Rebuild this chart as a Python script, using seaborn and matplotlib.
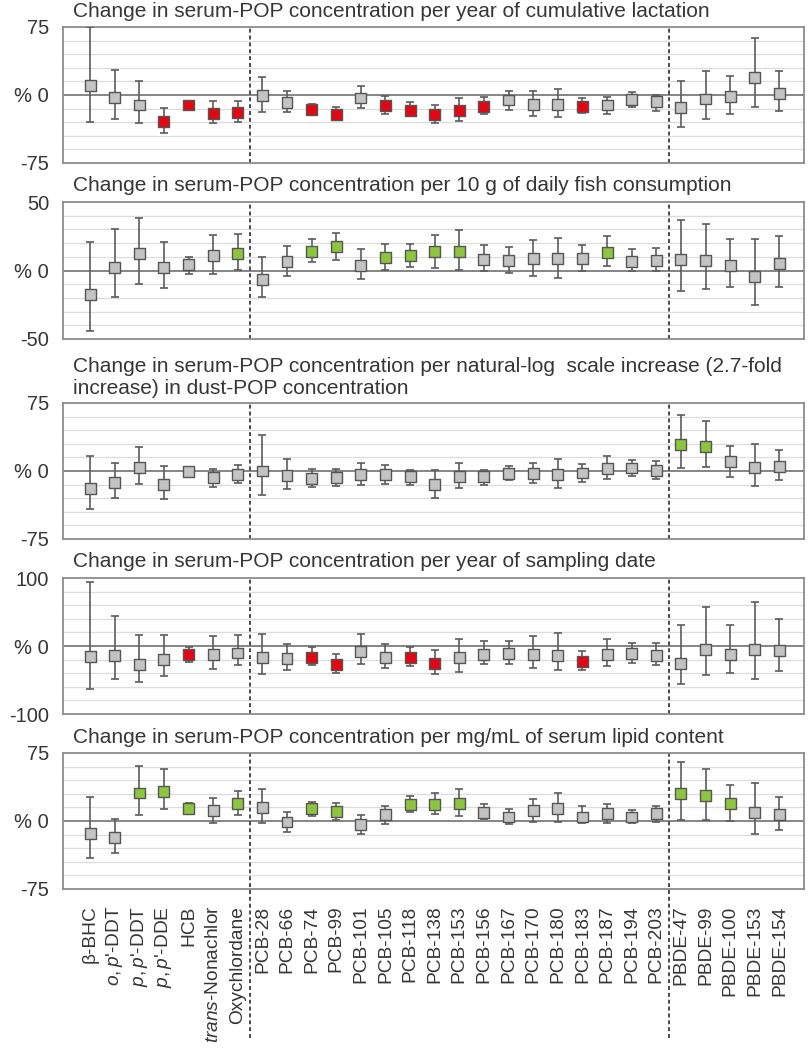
import numpy as np
import pandas as pd
import matplotlib
matplotlib.use("Agg")
import matplotlib.pyplot as plt
import seaborn as sns

# -----------------------------
# Data
# -----------------------------
compounds = [
    "β-BHC", r"$\mathit{o,p}$'-DDT", r"$\mathit{p,p}$'-DDT", r"$\mathit{p,p}$'-DDE", "HCB",
    r"$\mathit{trans}$-Nonachlor", "Oxychlordane",
    "PCB-28", "PCB-66", "PCB-74", "PCB-99", "PCB-101", "PCB-105", "PCB-118", "PCB-138",
    "PCB-153", "PCB-156", "PCB-167", "PCB-170", "PCB-180", "PCB-183", "PCB-187", "PCB-194",
    "PCB-203",
    "PBDE-47", "PBDE-99", "PBDE-100", "PBDE-153", "PBDE-154",
]

# 1. cumulative lactation
lact_est = [10.3, -2.6, -11, -29.6, -11, -20, -19.6, -0.7, -7.8, -16, -21, -3.3, -11.8, -17.4,
            -21, -17.4, -13, -5.5, -10, -10.7, -12.6, -11, -5.2, -7.4, -13.7, -4.4, -1.5, 19.6, 1.8]
lact_lo = [-29.6, -26.6, -31, -42, -15.5, -31, -30, -19, -19, -21, -26.6, -14.8, -21, -23,
           -31, -29, -21, -16.6, -23, -24, -20.3, -21, -13, -17.4, -35.8, -27, -21, -13, -18]
lact_hi = [75, 28, 15.5, -14, -8, -7, -7, 20, 4, -10, -13, 9.6, -1, -8, -10.7, -3.7, -2.6,
           4, 4, 6.7, -3.3, -1.8, 3.7, 0.4, 15.9, 26, 20.7, 62.8, 27]
lact_sig = ["n", "n", "n", "r", "r", "r", "r", "n", "n", "r", "r", "n", "r", "r", "r", "r",
            "r", "n", "n", "n", "r", "n", "n", "n", "n", "n", "n", "n", "n"]

# 2. daily fish consumption
fish_est = [-17.8, 2.4, 12.2, 2.4, 4.1, 11, 12.2, -6.6, 6.6, 14.1, 17.8, 3.7, 9.8, 11, 13.9,
            13.9, 8, 7.3, 9, 8.5, 8.5, 13.4, 6.8, 7.3, 8, 7.3, 3.7, -4.4, 4.9]
fish_lo = [-43.9, -19.5, -9.8, -12.9, -2.4, -2.4, 0.7, -19.5, -4.1, 6.1, 8, -6.1, 0.7, 2.9,
           1.7, 0.7, -0.7, -1.7, -3.7, -5.6, -0.5, 3.2, -0.7, -0.7, -14.6, -13.4, -12.2,
           -25.1, -12.2]
fish_hi = [20.7, 30.5, 38.5, 20.7, 10.2, 25.6, 26.3, 10.2, 17.6, 23.2, 27.6, 15.4, 19.5, 19,
           26.1, 29.3, 18.3, 17, 22, 23.7, 18.3, 25.1, 15.9, 16.3, 37, 33.7, 22.7, 22.7, 25.1]
fish_sig = ["n", "n", "n", "n", "n", "n", "g", "n", "n", "g", "g", "n", "g", "g", "g", "g",
            "n", "n", "n", "n", "n", "g", "n", "n", "n", "n", "n", "n", "n"]

# 3. dust-POP concentration
dust_est = [-18.9, -12.3, 3.7, -15.2, -0.4, -7.4, -3.7, 0, -4.8, -8.5, -7.4, -3.7, -3.7,
            -5.9, -14.9, -5.9, -5.9, -3, -3, -3.7, -2.2, 2.6, 3.3, 0.7, 29.7, 27.5, 10, 3.7, 5.2]
dust_lo = [-42, -29.7, -14.1, -30.8, -4.8, -17.8, -13.4, -26.4, -19.7, -17.8, -16, -15.2,
           -14.1, -15.2, -29.7, -18.6, -14.9, -9.7, -13.4, -18.6, -12.3, -8.5, -5.9, -8.5,
           3.7, 4.5, -6.7, -16, -9.7]
dust_hi = [16.3, 8.9, 26, 5.2, 3.7, 2.6, 6.3, 39.7, 13, 2.6, 2.6, 9.3, 6.3, 0.7, 1.5, 8.9,
           1.5, 5.2, 9.3, 13, 8.2, 16.3, 11.9, 11.1, 62, 55.3, 27.5, 29.7, 23]
dust_sig = ["n"] * 24 + ["g", "g", "n", "n", "n"]

# 4. sampling date
date_est = [-15.3, -13.8, -27.6, -20.2, -12.3, -12.3, -10.3, -17.2, -18.7, -16.3, -27.6,
            -7.4, -16.3, -17.2, -25.1, -16.3, -12.3, -11.3, -12.8, -13.8, -22.7, -12.3,
            -11.3, -13.8, -25.1, -4.9, -12.3, -5.4, -6.4]
date_lo = [-63, -48.3, -53.2, -44.8, -23.6, -33.5, -28.6, -41.9, -35, -27.6, -39.9, -26.1,
           -32, -30, -40.9, -38.4, -27.1, -27.1, -32, -36, -36, -30, -25.1, -28.6, -55.7,
           -42.4, -39.4, -48.3, -36.9]
date_hi = [94.6, 44.3, 15.8, 15.8, -0.8, 14.3, 15.8, 18.2, 2.5, -0.8, -12.3, 17.2, 3.4,
           -1.5, -5.4, 9.9, 7.4, 7.4, 14.3, 19.2, -7.4, 9.9, 4.9, 4.4, 30.5, 56.7, 30.5,
           65, 40.4]
date_sig = ["n", "n", "n", "n", "r", "n", "n", "n", "n", "r", "r", "n", "n", "r", "r", "n",
            "n", "n", "n", "n", "r", "n", "n", "n", "n", "n", "n", "n", "n"]

# 5. serum lipid content
lipid_est = [-13.8, -18.2, 30.9, 32.8, 14.2, 11.6, 18.9, 15.3, -1.1, 13.5, 10.9, -3.6, 6.9,
             18.2, 17.8, 19.7, 9.8, 4.4, 11.6, 14.2, 4.4, 8.7, 4.4, 8, 30.6, 28, 18.9, 9.8, 7.3]
lipid_lo = [-41.1, -35.7, 6.2, 13.5, 8.7, -1.8, 6.2, -2.2, -12, 5.1, 0.7, -13.8, -2.9, 9.8,
            7.3, 5.5, 2.5, -3.6, -1.1, -1.1, -1.8, -1.8, -1.8, -1.1, 1.5, 0.7, 0.3, -14.6,
            -10.2]
lipid_hi = [26.9, 1.8, 60.8, 57, 19.7, 25.5, 33.5, 35.3, 9.8, 21.5, 19.7, 6.2, 16.4, 27.3,
            30.9, 35.3, 18.9, 13.5, 24.4, 30.9, 16.4, 18.2, 12.4, 16.4, 65, 57.9, 40, 41.5, 26.9]
lipid_sig = ["n", "n", "g", "g", "g", "n", "g", "n", "n", "g", "g", "n", "n", "g", "g", "g",
             "n", "n", "n", "n", "n", "n", "n", "n", "g", "g", "g", "n", "n"]

titles = [
    "Change in serum-POP concentration per year of cumulative lactation",
    "Change in serum-POP concentration per 10 g of daily fish consumption",
    "Change in serum-POP concentration per natural-log  scale increase (2.7-fold\n"
    "increase) in dust-POP concentration",
    "Change in serum-POP concentration per year of sampling date",
    "Change in serum-POP concentration per mg/mL of serum lipid content",
]
ranges = [75, 50, 75, 100, 75]
grid_steps = [15, 10, 15, 20, 15]
group_breaks = [6.5, 23.5]

panels = [
    (lact_est, lact_lo, lact_hi, lact_sig),
    (fish_est, fish_lo, fish_hi, fish_sig),
    (dust_est, dust_lo, dust_hi, dust_sig),
    (date_est, date_lo, date_hi, date_sig),
    (lipid_est, lipid_lo, lipid_hi, lipid_sig),
]

# -----------------------------
# Basic Settings
# -----------------------------
sns.set_style("white")
plt.rcParams["font.family"] = ["Liberation Sans", "DejaVu Sans"]
plt.rcParams["mathtext.fontset"] = "custom"
plt.rcParams["mathtext.rm"] = "Liberation Sans"
plt.rcParams["mathtext.it"] = "Liberation Sans:italic"
plt.rcParams["mathtext.bf"] = "Liberation Sans:bold"

TXT = "#363636"
palette = {"n": "#c3c3c3", "r": "#e30613", "g": "#8cc63f"}

W, H = 810, 1050
tops = [27, 202, 403, 578, 753]
bots = [163, 339, 539, 714, 889]
title_base = [17, 191, 394, 567, 743]

fig = plt.figure(figsize=(W / 100, H / 100), dpi=100)

pos = np.arange(len(compounds))

for i, (est, lo, hi, sig) in enumerate(panels):
    ax = fig.add_axes([63 / W, 1 - bots[i] / H, 741 / W, (bots[i] - tops[i]) / H])
    df = pd.DataFrame({"pos": pos, "est": est, "lo": lo, "hi": hi, "sig": sig})

    r = ranges[i]
    ax.set_ylim(-r, r)
    ax.set_xlim(-1.1, 29.0)

    # light horizontal grid
    ax.set_yticks(np.arange(-r, r + 1, grid_steps[i]), minor=True)
    ax.grid(which="minor", axis="y", color="#dcdcdc", lw=0.9)
    ax.grid(which="major", visible=False)
    ax.axhline(0, color="#858585", lw=1.4, zorder=1)

    for b in group_breaks:
        ymin = -149 / (bots[i] - tops[i]) if i == 4 else 0
        ax.axvline(b, ymin=ymin, ymax=1, color="#3c3c3c", lw=1.3,
                   ls=(0, (2.2, 1.6)), clip_on=False, zorder=2)

    ax.errorbar(df["pos"], df["est"],
                yerr=[df["est"] - df["lo"], df["hi"] - df["est"]],
                fmt="none", ecolor="#5c5c5c", elinewidth=1.2, capsize=3.2,
                capthick=1.2, zorder=3)
    sns.scatterplot(data=df, x="pos", y="est", hue="sig", palette=palette,
                    marker="s", s=62, edgecolor="#555555", linewidth=1.0,
                    legend=False, ax=ax, zorder=4)

    ax.set_yticks([-r, 0, r])
    ax.set_yticklabels([str(-r), "% 0", str(r)], fontsize=14.5, color=TXT)
    ax.tick_params(axis="y", which="major", length=4, width=1.2, color="#858585", pad=6)
    ax.tick_params(axis="y", which="minor", length=0)
    ax.set_xticks(pos)
    if i == 4:
        ax.set_xticklabels(compounds, rotation=90, fontsize=13.8, color=TXT)
        ax.tick_params(axis="x", length=0, pad=12)
    else:
        ax.set_xticklabels([])
        ax.tick_params(axis="x", length=0)
    ax.set_xlabel("")
    ax.set_ylabel("")
    for sp in ax.spines.values():
        sp.set_color("#8c8c8c")
        sp.set_linewidth(1.3)

    fig.text(73 / W, 1 - title_base[i] / H, titles[i], fontsize=15, color=TXT,
             va="baseline", ha="left", linespacing=1.2)

fig.savefig("out.png", dpi=100, facecolor="white")
